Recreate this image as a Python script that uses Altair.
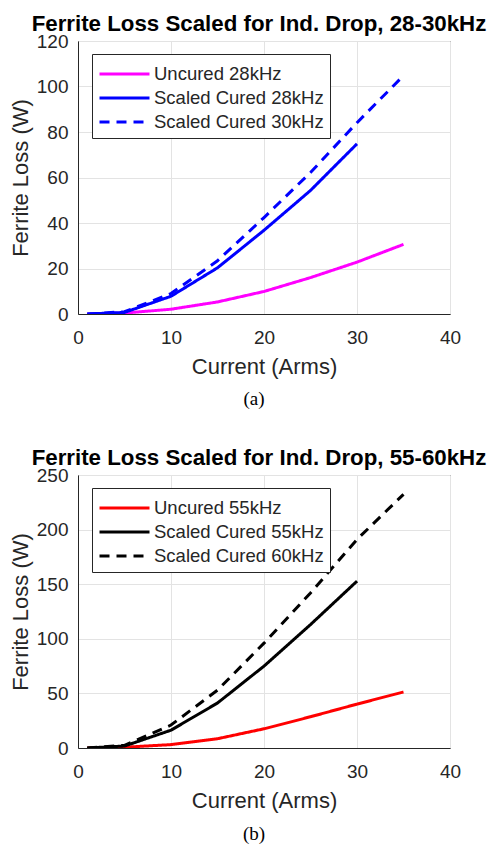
import altair as alt
import pandas as pd

# ---------------- data ----------------
current = [1, 5, 10, 15, 20, 25, 30, 35]

# panel (a) 28-30 kHz
names_a = ["Uncured 28kHz", "Scaled Cured 28kHz", "Scaled Cured 30kHz"]
uncured_28 = [0.0, 0.4, 2.1, 5.3, 9.9, 16.0, 22.8, 30.6]
cured_28 = [0.0, 0.7, 7.8, 20.3, 36.8, 54.3, 74.8]
cured_30 = [0.0, 1.0, 9.0, 23.4, 42.4, 62.2, 84.1, 104.8]

# panel (b) 55-60 kHz
names_b = ["Uncured 55kHz", "Scaled Cured 55kHz", "Scaled Cured 60kHz"]
uncured_55 = [0.0, 0.7, 3.1, 8.5, 17.6, 28.6, 40.2, 51.3]
cured_55 = [0.0, 1.8, 16.3, 41.2, 75.0, 113.0, 152.8]
cured_60 = [0.0, 2.4, 21.0, 53.0, 96.0, 142.0, 191.0, 232.3]

titles = ["Ferrite Loss Scaled for Ind. Drop, 28-30kHz",
          "Ferrite Loss Scaled for Ind. Drop, 55-60kHz"]
captions = ["(a)", "(b)"]
x_ticks = [0, 10, 20, 30, 40]
y_ticks_a = [0, 20, 40, 60, 80, 100, 120]
y_ticks_b = [0, 50, 100, 150, 200, 250]

FONT = "Liberation Sans"


def build_df(names, series):
    rows = []
    for name, vals in zip(names, series):
        for xv, yv in zip(current, vals):
            rows.append({"current": xv, "loss": yv, "series": name})
    return pd.DataFrame(rows)


def panel(df, names, colors, title, y_ticks, caption, cap_y):
    legend = alt.Legend(
        title=None, orient="none", legendX=14, legendY=13,
        symbolType="M-1,0H3", symbolSize=625, symbolStrokeWidth=3,
        labelFontSize=18.5, labelFont=FONT, labelColor="#262626",
        strokeColor="#262626", fillColor="white", padding=6,
        rowPadding=0, labelOffset=28, cornerRadius=0, labelLimit=400,
    )
    lines = alt.Chart(df).mark_line(strokeWidth=3, clip=True).encode(
        x=alt.X("current:Q",
                scale=alt.Scale(domain=[x_ticks[0], x_ticks[-1]], nice=False),
                axis=alt.Axis(values=x_ticks, title="Current (Arms)")),
        y=alt.Y("loss:Q",
                scale=alt.Scale(domain=[y_ticks[0], y_ticks[-1]], nice=False),
                axis=alt.Axis(values=y_ticks, title="Ferrite Loss (W)")),
        color=alt.Color("series:N", scale=alt.Scale(domain=names, range=colors),
                        legend=legend),
        strokeDash=alt.StrokeDash("series:N",
                                  scale=alt.Scale(domain=names,
                                                  range=[[1, 0], [1, 0], [10, 7]]),
                                  legend=legend),
        order="current:Q",
    )
    cap = alt.Chart(pd.DataFrame({"t": [caption]})).mark_text(
        font="Liberation Serif", fontSize=19, align="center", baseline="middle",
        color="black",
    ).encode(text="t:N", x=alt.value(176), y=alt.value(cap_y))
    head = alt.Chart(pd.DataFrame({"t": [title]})).mark_text(
        font=FONT, fontSize=22.3, fontWeight="bold", align="center",
        baseline="alphabetic", color="black",
    ).encode(text="t:N", x=alt.value(181), y=alt.value(-10.3))
    return alt.layer(lines, cap, head).properties(width=372, height=273)


df_a = build_df(names_a, [uncured_28, cured_28, cured_30])
df_b = build_df(names_b, [uncured_55, cured_55, cured_60])

chart_a = panel(df_a, names_a, ["#ff00ff", "#0000ff", "#0000ff"], titles[0],
                y_ticks_a, captions[0], 358)
chart_b = panel(df_b, names_b, ["#ff0000", "#000000", "#000000"], titles[1],
                y_ticks_b, captions[1], 359)

chart = alt.vconcat(chart_a, chart_b, spacing=36).resolve_scale(
    color="independent", strokeDash="independent"
).properties(
    padding={"left": 0, "right": 0, "top": 4, "bottom": 0}
).configure_view(
    stroke="#262626", strokeWidth=1
).configure_axis(
    labelFont=FONT, labelFontSize=19, labelColor="#262626", labelFlush=False,
    titleFont=FONT, titleFontSize=22, titleFontWeight="normal", titleColor="#262626",
    gridColor="#e3e3e3", gridWidth=1, domainColor="#262626",
    ticks=False, labelPadding=10,
).configure_axisY(titlePadding=4).configure_axisX(titlePadding=9, labelPadding=14)

chart.save("out.html", embed_options={"renderer": "svg", "actions": False})
